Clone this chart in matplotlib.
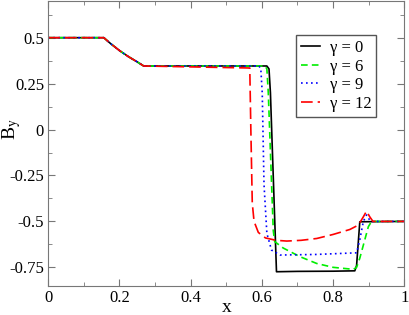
import numpy as np
import matplotlib
matplotlib.use("Agg")
import matplotlib.pyplot as plt
from matplotlib.ticker import MultipleLocator

plt.rcParams['font.family'] = ['Liberation Serif', 'DejaVu Serif']
plt.rcParams['mathtext.fontset'] = 'stix'

# common rarefaction part
x_common = [0.0, 0.156, 0.175, 0.2, 0.225, 0.25, 0.268]
y_common = [0.5, 0.5, 0.468, 0.43, 0.397, 0.368, 0.346]

# gamma = 0
x_g0 = [0.614, 0.62, 0.624, 0.641, 0.7, 0.8, 0.861, 0.866, 0.875, 1.0]
y_g0 = [0.346, 0.33, 0.2, -0.774, -0.772, -0.771, -0.769, -0.74, -0.502, -0.5]

# gamma = 6
x_g6 = [0.609, 0.614, 0.618, 0.632, 0.636, 0.66, 0.707, 0.754, 0.8, 0.857, 0.866, 0.875, 0.885, 0.899, 0.908, 1.0]
y_g6 = [0.346, 0.33, 0.2, -0.55, -0.61, -0.645, -0.692, -0.729, -0.75, -0.761, -0.75, -0.70, -0.629, -0.529, -0.5, -0.5]

# gamma = 9
x_g9 = [0.592, 0.597, 0.601, 0.606, 0.614, 0.627, 0.651, 0.75, 0.866, 0.875, 0.885, 0.894, 0.905, 1.0]
y_g9 = [0.346, 0.33, 0.2, -0.3, -0.565, -0.656, -0.683, -0.68, -0.671, -0.6, -0.5, -0.465, -0.5, -0.5]

# gamma = 12
x_g12 = [0.566, 0.569, 0.573, 0.578, 0.59, 0.61, 0.64, 0.67, 0.71, 0.754, 0.8, 0.847, 0.871, 0.885, 0.894, 0.903, 0.912, 1.0]
y_g12 = [0.335, 0.0, -0.4, -0.5, -0.56, -0.59, -0.603, -0.607, -0.603, -0.593, -0.571, -0.544, -0.52, -0.475, -0.444, -0.475, -0.5, -0.5]

labels = ['γ = 0', 'γ = 6', 'γ = 9', 'γ = 12']
xticks = [0, 0.2, 0.4, 0.6, 0.8, 1.0]
xtick_labels = ['0', '0.2', '0.4', '0.6', '0.8', '1']
yticks = [-0.75, -0.5, -0.25, 0, 0.25, 0.5]
ytick_labels = ['-0.75', '-0.5', '-0.25', '0', '0.25', '0.5']

fig = plt.figure(figsize=(4.09, 3.15), dpi=100)
ax = fig.add_axes([0.118, 0.093, 0.8705, 0.904])

series = [(x_g0, y_g0, 'black', '-'),
          (x_g6, y_g6, '#00ee00', (0, (4, 2.5))),
          (x_g9, y_g9, 'blue', (0, (1, 2))),
          (x_g12, y_g12, 'red', (0, (7, 3)))]
for (xs, ys, c, ls), lab in zip(series, labels):
    ax.plot(x_common + xs, y_common + ys, color=c, linestyle=ls, lw=1.2, label=lab)

ax.set_xlim(0, 1)
ax.set_ylim(-0.85, 0.7)
ax.set_xticks(xticks)
ax.set_xticklabels(xtick_labels, fontsize=12)
ax.set_yticks(yticks)
ax.set_yticklabels(ytick_labels, fontsize=12)
ax.xaxis.set_minor_locator(MultipleLocator(0.1))
ax.yaxis.set_minor_locator(MultipleLocator(0.125))
ax.tick_params(which='both', direction='in', top=True, right=True, color='#777777')
ax.tick_params(which='major', length=5, pad=3)
ax.tick_params(which='minor', length=3)
for s in ax.spines.values():
    s.set_color('#777777')
ax.set_xlabel('x', fontsize=14)
ax.xaxis.set_label_coords(0.5, -0.045)
ax.set_ylabel(r'B$_\mathrm{y}$', fontsize=14)
ax.yaxis.set_label_coords(-0.07, 0.55)

leg = ax.legend(loc='upper right', bbox_to_anchor=(0.921, 0.88), fontsize=12,
                handlelength=1.1, handletextpad=0.6, borderpad=0.3,
                borderaxespad=0, labelspacing=0.15, fancybox=False, framealpha=1)
leg.get_frame().set_edgecolor('#555555')
leg.get_frame().set_linewidth(1.0)

fig.savefig('out.png', dpi=100)
